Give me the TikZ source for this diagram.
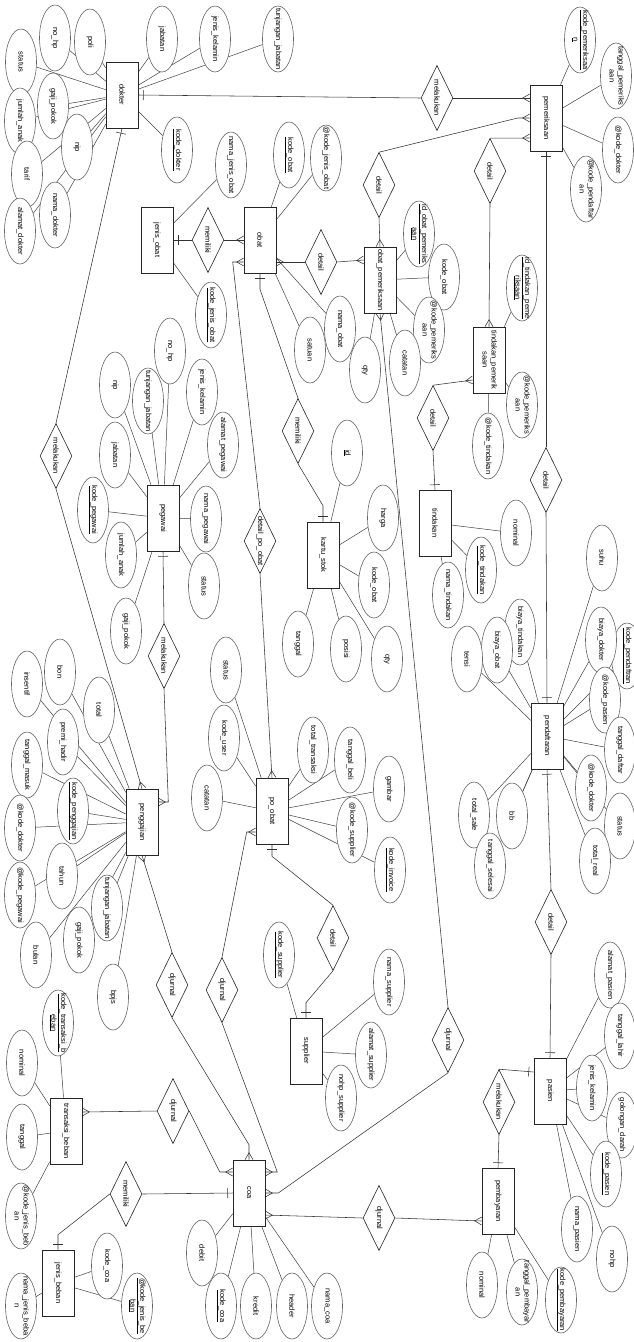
\documentclass[tikz,border=0pt]{standalone}
\usepackage{fontspec}
\setmainfont{Liberation Sans}
\usepackage{graphicx}
\usetikzlibrary{shapes.geometric,calc,decorations.markings,backgrounds}
\newcommand\rt[1]{\rotatebox{-90}{\makebox[0pt]{#1}}}
\newcommand\rtt[2]{\rotatebox{-90}{\makebox[0pt]{\begin{tabular}{@{}c@{}}#1\\#2\end{tabular}}}}
\newcommand\uln[1]{\underline{#1}}
\tikzset{
  ent/.style={draw=black!85, fill=white, line width=0.6pt, minimum width=32pt, minimum height=66pt, inner sep=0pt, font=\fontsize{7.5}{9}\selectfont},
  attr/.style={ellipse, draw=black!60, fill=white, line width=0.6pt, minimum width=31pt, minimum height=66pt, inner sep=0pt, font=\fontsize{7.5}{9}\selectfont},
  rel/.style={diamond, aspect=0.5, draw=black!85, fill=white, line width=0.6pt, minimum width=32pt, minimum height=65pt, inner sep=0pt, font=\fontsize{7.5}{9}\selectfont},
  conn/.style={draw=black!80, line width=0.55pt},
  attrline/.style={draw=black!75, line width=0.5pt},
  one end/.style={postaction={decorate,decoration={markings,mark=at position 1 with {\draw[conn] (-5pt,-5pt) -- (-5pt,5pt);}}}},
  one start/.style={postaction={decorate,decoration={markings,mark=at position 0 with {\draw[conn] (5pt,-5pt) -- (5pt,5pt);}}}},
  many end/.style={postaction={decorate,decoration={markings,mark=at position 1 with {\draw[conn] (0pt,4pt) -- (-7pt,0pt) -- (0pt,-4pt);}}}},
  many start/.style={postaction={decorate,decoration={markings,mark=at position 0 with {\draw[conn] (0pt,4pt) -- (7pt,0pt) -- (0pt,-4pt);}}}},
}
\begin{document}
\begin{tikzpicture}[x=1pt,y=-1pt]
\useasboundingbox (0,0) rectangle (633,1342);
% ---------------- entities
\node[ent] (dokter) at (122,95) {\rt{dokter}};
\node[ent] (pemeriksaan) at (546,118) {\rt{pemeriksaan}};
\node[ent] (jenisobat) at (157,240) {\rt{jenis\_obat}};
\node[ent] (obat) at (260,240) {\rt{obat}};
\node[ent] (obatpem) at (380,280) {\rt{obat\_pemeriksaan}};
\node[ent] (tindpem) at (489,360) {\rtt{tindakan\_pemerik}{saan}};
\node[ent] (tindakan) at (435,523) {\rt{tindakan}};
\node[ent] (kartustok) at (323,555) {\rt{kartu\_stok}};
\node[ent] (pegawai) at (163,518) {\rt{pegawai}};
\node[ent] (pendaftaran) at (547,736) {\rt{pendaftaran}};
\node[ent] (penggajian) at (142,822) {\rt{penggajian}};
\node[ent] (poobat) at (272,811) {\rt{po\_obat}};
\node[ent] (supplier) at (306,1051) {\rt{supplier}};
\node[ent] (pasien) at (550,1091) {\rt{pasien}};
\node[ent] (transbeban) at (66,1131) {\rt{transaksi\_beban}};
\node[ent] (coa) at (249,1193) {\rt{coa}};
\node[ent] (jenisbeban) at (58,1283) {\rt{jenis\_beban}};
\node[ent] (pembayaran) at (498,1201) {\rt{pembayaran}};
% ---------------- relationships
\node[rel] (rA) at (437,98) {\rt{melakukan}};
\node[rel] (rB) at (379,185) {\rt{detail}};
\node[rel] (rC) at (490,171) {\rt{detail}};
\node[rel] (rD) at (208,240) {\rt{memiliki}};
\node[rel] (rE) at (321,262) {\rt{detail}};
\node[rel] (rF) at (298,431) {\rt{memiliki}};
\node[rel] (rG) at (433,418) {\rt{detail}};
\node[rel] (rH) at (546,480) {\rt{detail}};
\node[rel] (rI) at (56,456) {\rt{melakukan}};
\node[rel] (rJ) at (260,541) {\rt{detail\_po\_obat}};
\node[rel] (rK) at (164,656) {\rt{melakukan}};
\node[rel] (rL) at (551,922) {\rt{detail}};
\node[rel] (rM) at (333,938) {\rt{detail}};
\node[rel] (rN) at (172,985) {\rt{djurnal}};
\node[rel] (rO) at (222,990) {\rt{djurnal}};
\node[rel] (rP) at (448,1040) {\rt{djurnal}};
\node[rel] (rQ) at (499,1102) {\rt{melakukan}};
\node[rel] (rR) at (173,1111) {\rt{djurnal}};
\node[rel] (rS) at (126,1194) {\rt{memiliki}};
\node[rel] (rT) at (379,1218) {\rt{djurnal}};
% ---------------- attributes: dokter
\node[attr] (dPoli) at (90,42) {\rt{poli}};
\node[attr] (dNohp) at (55,38) {\rt{no\_hp}};
\node[attr] (dStatus) at (21,62) {\rt{status}};
\node[attr] (dGaji) at (53,106) {\rt{gaji\_pokok}};
\node[attr] (dJml) at (20,121) {\rt{jumlah\_anak}};
\node[attr] (dNip) at (77,147) {\rt{nip}};
\node[attr] (dTarif) at (27,174) {\rt{tarif}};
\node[attr] (dNama) at (55,215) {\rt{nama\_dokter}};
\node[attr] (dAlamat) at (20,231) {\rt{alamat\_dokter}};
\node[attr] (dJab) at (162,39) {\rt{jabatan}};
\node[attr] (dJk) at (215,39) {\rt{jenis\_kelamin}};
\node[attr] (dTunj) at (278,39) {\rt{tunjangan\_jabatan}};
\node[attr] (dKode) at (177,150) {\rt{\uln{kode\_dokter}}};
% pemeriksaan
\node[attr] (pKode) at (580,40) {\rtt{\uln{kode\_pemeriksaa}}{\uln{n}}};
\node[attr] (pTgl) at (616,76) {\rtt{tanggal\_pemeriks}{aan}};
\node[attr] (pDok) at (618,150) {\rt{@kode\_dokter}};
\node[attr] (pPend) at (586,189) {\rtt{@kode\_pendaftar}{an}};
% jenis obat / obat
\node[attr] (joNama) at (231,165) {\rt{nama\_jenis\_obat}};
\node[attr] (joKode) at (211,315) {\rt{\uln{kode\_jenis\_obat}}};
\node[attr] (oKode) at (289,155) {\rt{\uln{kode\_obat}}};
\node[attr] (oJenis) at (326,158) {\rt{@kode\_jenis\_obat}};
\node[attr] (oSatuan) at (310,350) {\rt{satuan}};
\node[attr] (oNama) at (340,329) {\rt{nama\_obat}};
% obat pemeriksaan
\node[attr] (opId) at (419,234) {\rtt{\uln{id\_obat\_pemeriks}}{\uln{aan}}};
\node[attr] (opObat) at (444,277) {\rt{kode\_obat}};
\node[attr] (opPem) at (429,330) {\rtt{@kode\_pemeriks}{aan}};
\node[attr] (opCat) at (405,363) {\rt{catatan}};
\node[attr] (opQty) at (365,370) {\rt{qty}};
% tindakan pemeriksaan
\node[attr] (tpId) at (522,288) {\rtt{\uln{id\_tindakan\_peme}}{\uln{riksaan}}};
\node[attr] (tpPem) at (522,405) {\rtt{@kode\_pemeriks}{aan}};
\node[attr] (tpTind) at (488,446) {\rt{@kode\_tindakan}};
% tindakan
\node[attr] (tNominal) at (516,533) {\rt{nominal}};
\node[attr] (tKode) at (481,570) {\rt{\uln{kode\_tindakan}}};
\node[attr] (tNama) at (448,595) {\rt{nama\_tindakan}};
% kartu stok
\node[attr] (ksId) at (347,453) {\rt{\uln{id}}};
\node[attr] (ksHarga) at (383,518) {\rt{harga}};
\node[attr] (ksKode) at (374,585) {\rt{kode\_obat}};
\node[attr] (ksQty) at (387,659) {\rt{qty}};
\node[attr] (ksPosisi) at (346,649) {\rt{posisi}};
\node[attr] (ksTgl) at (298,644) {\rt{tanggal}};
% pegawai
\node[attr] (pgNohp) at (170,351) {\rt{no\_hp}};
\node[attr] (pgNip) at (115,385) {\rt{nip}};
\node[attr] (pgTunj) at (148,401) {\rt{tunjangan\_jabatan}};
\node[attr] (pgJk) at (202,392) {\rt{jenis\_kelamin}};
\node[attr] (pgAlamat) at (223,445) {\rt{alamat\_pegawai}};
\node[attr] (pgJab) at (115,455) {\rt{jabatan}};
\node[attr] (pgKode) at (93,510) {\rt{\uln{kode\_pegawai}}};
\node[attr] (pgJml) at (121,555) {\rt{jumlah\_anak}};
\node[attr] (pgGaji) at (126,631) {\rt{gaji\_pokok}};
\node[attr] (pgNama) at (206,519) {\rt{nama\_pegawai}};
\node[attr] (pgStatus) at (204,586) {\rt{status}};
% pendaftaran
\node[attr] (pdSuhu) at (602,558) {\rt{suhu}};
\node[attr] (pdKode) at (627,656) {\rt{\uln{kode\_pendaftran}}};
\node[attr] (pdBdok) at (601,640) {\rt{biaya\_dokter}};
\node[attr] (pdPas) at (605,700) {\rt{@kode\_pasien}};
\node[attr] (pdBtind) at (520,632) {\rt{biaya\_tindakan}};
\node[attr] (pdBobat) at (497,650) {\rt{biaya\_obat}};
\node[attr] (pdTensi) at (467,659) {\rt{tensi}};
\node[attr] (pdTgl) at (620,750) {\rt{tanggal\_daftar}};
\node[attr] (pdDok) at (591,788) {\rt{@kode\_dokter}};
\node[attr] (pdStatus) at (620,826) {\rt{status}};
\node[attr] (pdReal) at (595,861) {\rt{total\_real}};
\node[attr] (pdBb) at (512,816) {\rt{bb}};
\node[attr] (pdSale) at (474,815) {\rt{total\_sale}};
\node[attr] (pdSelesai) at (490,866) {\rt{tanggal\_selesai}};
% penggajian
\node[attr] (gBon) at (60,672) {\rt{bon}};
\node[attr] (gIns) at (27,684) {\rt{insentif}};
\node[attr] (gTotal) at (99,710) {\rt{total}};
\node[attr] (gPremi) at (63,742) {\rt{premi\_hadir}};
\node[attr] (gTgl) at (27,765) {\rt{tanggal\_masuk}};
\node[attr] (gKode) at (73,811) {\rt{\uln{kode\_penggajian}}};
\node[attr] (gDok) at (20,828) {\rt{@kode\_dokter}};
\node[attr] (gTahun) at (62,876) {\rt{tahun}};
\node[attr] (gPeg) at (20,895) {\rt{@kode\_pegawai}};
\node[attr] (gTunj) at (107,908) {\rt{tunjangan\_jabatan}};
\node[attr] (gGaji) at (79,940) {\rt{gaji\_pokok}};
\node[attr] (gBulan) at (36,955) {\rt{bulan}};
\node[attr] (gBpjs) at (113,997) {\rt{bpjs}};
% po obat
\node[attr] (poStatus) at (226,670) {\rt{status}};
\node[attr] (poUser) at (224,738) {\rt{kode\_user}};
\node[attr] (poCat) at (207,798) {\rt{catatan}};
\node[attr] (poTotal) at (313,750) {\rt{total\_transaksi}};
\node[attr] (poTgl) at (350,760) {\rt{tanggal\_beli}};
\node[attr] (poGambar) at (389,789) {\rt{gambar}};
\node[attr] (poSup) at (352,830) {\rt{@kode\_supplier}};
\node[attr] (poInv) at (390,870) {\rt{\uln{kode\_invoice}}};
% supplier
\node[attr] (sKode) at (279,955) {\rt{\uln{kode\_supplier}}};
\node[attr] (sNama) at (389,982) {\rt{nama\_supplier}};
\node[attr] (sAlamat) at (371,1055) {\rt{alamat\_supplier}};
\node[attr] (sNohp) at (341,1098) {\rt{nohp\_supplier}};
% pasien
\node[attr] (psAlamat) at (610,975) {\rt{alamat\_pasien}};
\node[attr] (psTgl) at (620,1036) {\rt{tanggal\_lahir}};
\node[attr] (psJk) at (592,1088) {\rt{jenis\_kelamin}};
\node[attr] (psGol) at (622,1125) {\rt{golongan\_darah}};
\node[attr] (psKode) at (606,1174) {\rt{\uln{kode\_pasien}}};
\node[attr] (psNama) at (577,1229) {\rt{nama\_pasien}};
\node[attr] (psNohp) at (612,1259) {\rt{nohp}};
% pembayaran
\node[attr] (byNom) at (482,1285) {\rt{nominal}};
\node[attr] (byTgl) at (522,1292) {\rtt{tanggal\_pembayar}{an}};
\node[attr] (byKode) at (561,1300) {\rt{\uln{kode\_pembayaran}}};
% coa
\node[attr] (cDebit) at (202,1253) {\rt{debit}};
\node[attr] (cKode) at (221,1306) {\rt{\uln{kode\_coa}}};
\node[attr] (cKredit) at (256,1306) {\rt{kredit}};
\node[attr] (cHeader) at (292,1306) {\rt{header}};
\node[attr] (cNama) at (327,1306) {\rt{nama\_coa}};
% transaksi beban
\node[attr] (tbKode) at (58,1023) {\rtt{\uln{kode\_transaksi\_b}}{\uln{eban}}};
\node[attr] (tbNom) at (22,1063) {\rt{nominal}};
\node[attr] (tbTgl) at (22,1137) {\rt{tanggal}};
\node[attr] (tbJb) at (21,1216) {\rtt{@kode\_jenis\_beb}{an}};
% jenis beban
\node[attr] (jbCoa) at (107,1266) {\rt{kode\_coa}};
\node[attr] (jbKode) at (137,1306) {\rtt{\uln{@kode\_jenis\_be}}{\uln{ban}}};
\node[attr] (jbNama) at (21,1306) {\rtt{nama\_jenis\_beba}{n}};
% ---------------- lines (behind)
\begin{pgfonlayer}{background}
\foreach \a in {dPoli,dNohp,dStatus,dGaji,dJml,dNip,dTarif,dNama,dAlamat,dJab,dJk,dTunj,dKode}
  \draw[attrline] (dokter) -- (\a);
\foreach \a in {pKode,pTgl,pDok,pPend}
  \draw[attrline] (pemeriksaan) -- (\a);
\foreach \a in {joNama,joKode}
  \draw[attrline] (jenisobat) -- (\a);
\foreach \a in {oKode,oJenis,oSatuan,oNama}
  \draw[attrline] (obat) -- (\a);
\foreach \a in {opId,opObat,opPem,opCat,opQty}
  \draw[attrline] (obatpem) -- (\a);
\foreach \a in {tpId,tpPem,tpTind}
  \draw[attrline] (tindpem) -- (\a);
\foreach \a in {tNominal,tKode,tNama}
  \draw[attrline] (tindakan) -- (\a);
\foreach \a in {ksId,ksHarga,ksKode,ksQty,ksPosisi,ksTgl}
  \draw[attrline] (kartustok) -- (\a);
\foreach \a in {pgNohp,pgNip,pgTunj,pgJk,pgAlamat,pgJab,pgKode,pgJml,pgGaji,pgNama,pgStatus}
  \draw[attrline] (pegawai) -- (\a);
\foreach \a in {pdSuhu,pdKode,pdBdok,pdPas,pdBtind,pdBobat,pdTensi,pdTgl,pdDok,pdStatus,pdReal,pdBb,pdSale,pdSelesai}
  \draw[attrline] (pendaftaran) -- (\a);
\foreach \a in {gBon,gIns,gTotal,gPremi,gTgl,gKode,gDok,gTahun,gPeg,gTunj,gGaji,gBulan,gBpjs}
  \draw[attrline] (penggajian) -- (\a);
\foreach \a in {poStatus,poUser,poCat,poTotal,poTgl,poGambar,poSup,poInv}
  \draw[attrline] (poobat) -- (\a);
\foreach \a in {sKode,sNama,sAlamat,sNohp}
  \draw[attrline] (supplier) -- (\a);
\foreach \a in {psAlamat,psTgl,psJk,psGol,psKode,psNama,psNohp}
  \draw[attrline] (pasien) -- (\a);
\foreach \a in {byNom,byTgl,byKode}
  \draw[attrline] (pembayaran) -- (\a);
\foreach \a in {cDebit,cKode,cKredit,cHeader,cNama}
  \draw[attrline] (coa) -- (\a);
\foreach \a in {tbKode,tbNom,tbTgl,tbJb}
  \draw[attrline] (transbeban) -- (\a);
\foreach \a in {jbCoa,jbKode,jbNama}
  \draw[attrline] (jenisbeban) -- (\a);
% relationship connectors
\draw[conn,one start] (dokter.east) -- (rA.west);
\draw[conn,many end] (rA.east) -- ($(pemeriksaan.west)+(0,-20)$);
\draw[conn,many end] (rB.north) -- ($(pemeriksaan.west)+(-12,0)$) -- (pemeriksaan.west);
\draw[conn,many end] (rB.south) -- (obatpem.north);
\draw[conn,many end] (rC.north) -- ($(pemeriksaan.west)+(0,20)$);
\draw[conn,many end] (rC.south) -- (tindpem.north);
\draw[conn,one start] (jenisobat.east) -- (rD.west);
\draw[conn,many end] (rD.east) -- (obat.west);
\draw[conn,many start] ($(obat.west)+(0,22)$) -- ($(obat.west)+(-11,22)$) -- (rJ.north);
\draw[conn,many end] (rJ.south) -- (poobat.north);
\draw[conn,many start] ($(obat.east)+(0,22)$) -- (rE.west);
\draw[conn,many end] (rE.east) -- ($(obatpem.west)+(0,-20)$);
\draw[conn,one start] (obat.south) -- ($(obat.south)+(0,16)$) -- (rF.north);
\draw[conn,one end] (rF.south) -- ($(kartustok.north)+(0,-16)$) -- (kartustok.north);
\draw[conn,many start] (obatpem.south) -- (rP.north);
\draw[conn,many end] (rP.south) -- ($(coa.east)+(13,0)$) -- (coa.east);
\draw[conn,one start] (pemeriksaan.south) -- (rH.north);
\draw[conn,one end] (rH.south) -- (pendaftaran.north);
\draw[conn,many start] ($(tindpem.west)+(0,20)$) -- (rG.north);
\draw[conn,one end] (rG.south) -- (tindakan.north);
\draw[conn,one start] (dokter.south) -- (rI.north);
\draw[conn,many end] (rI.south) -- (penggajian.north);
\draw[conn,one start] (pegawai.south) -- (rK.north);
\draw[conn,many end] (rK.south) -- ($(penggajian.east)+(10,-20)$) -- ($(penggajian.east)+(0,-20)$);
\draw[conn,many start] (penggajian.south) -- (rN.north);
\draw[conn,many end] (rN.south) -- ($(coa.north)+(0,-15)$) -- (coa.north);
\draw[conn,many start] ($(poobat.west)+(0,21)$) -- ($(poobat.west)+(-9,21)$) -- (rO.north);
\draw[conn,many end] (rO.south) -- ($(coa.east)+(12,-21)$) -- ($(coa.east)+(0,-21)$);
\draw[conn,one start] (poobat.south) -- ($(poobat.south)+(0,12)$) -- (rM.north);
\draw[conn,one end] (rM.south) -- ($(supplier.north)+(0,-15)$) -- (supplier.north);
\draw[conn,one start] (pendaftaran.south) -- (rL.north);
\draw[conn,one end] (rL.south) -- (pasien.north);
\draw[conn,one end] (rQ.north) -- ($(pasien.west)+(0,-19)$);
\draw[conn,one end] (rQ.south) -- (pembayaran.north);
\draw[conn,many end] (rR.west) -- ($(transbeban.east)+(0,-19)$);
\draw[conn,many end] (rR.east) -- ($(coa.west)+(-13,-21)$) -- ($(coa.west)+(0,-21)$);
\draw[conn,one end] (rS.east) -- (coa.west);
\draw[conn,one end] (rS.west) -- ($(jenisbeban.north)+(0,-15)$) -- (jenisbeban.north);
\draw[conn,many start] ($(coa.east)+(0,22)$) -- (rT.west);
\draw[conn,many end] (rT.east) -- ($(pembayaran.west)+(0,20)$);
\end{pgfonlayer}
\end{tikzpicture}
\end{document}
